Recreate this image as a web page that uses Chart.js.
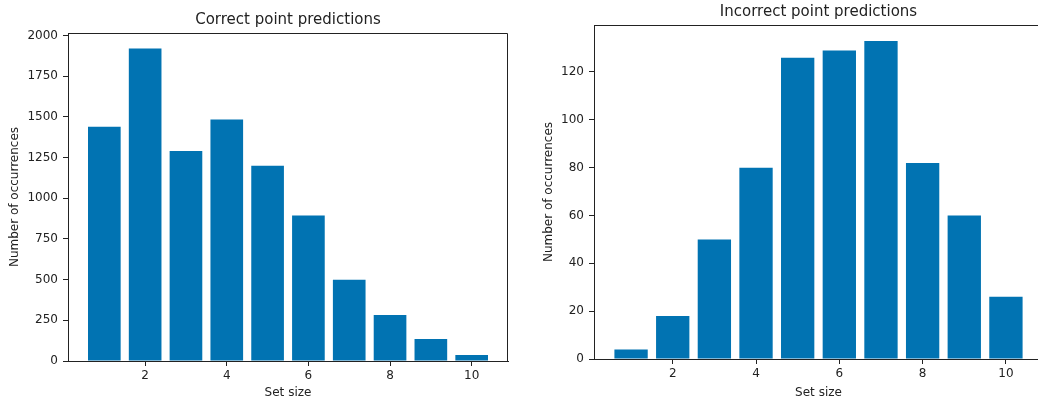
<!DOCTYPE html>
<html>
<head>
<meta charset="utf-8">
<script src="https://cdn.jsdelivr.net/npm/chart.js@4"></script>
<style>
  html, body { margin: 0; padding: 0; background: #fff; overflow: hidden; }
  body { width: 1038px; height: 400px; position: relative; }
  .box { position: absolute; top: 0; height: 400px; }
</style>
</head>
<body>
<div class="box" style="left:0px;width:576px"><canvas id="leftChart"></canvas></div>
<div class="box" style="left:540px;width:557px"><canvas id="rightChart"></canvas></div>
<script>
// datos
const setSizes = [1, 2, 3, 4, 5, 6, 7, 8, 9, 10];
const correctCounts = [1440, 1920, 1290, 1485, 1200, 895, 500, 282, 135, 37];
const incorrectCounts = [4, 18, 50, 80, 126, 129, 133, 82, 60, 26];
const xTickValues = [2, 4, 6, 8, 10];
const correctYTicks = [0, 250, 500, 750, 1000, 1250, 1500, 1750, 2000];
const incorrectYTicks = [0, 20, 40, 60, 80, 100, 120];

const barColor = '#0173B2';
const ink = '#222';
Chart.defaults.font.family = "'DejaVu Sans', sans-serif";
Chart.defaults.color = ink;

// spines de arriba y derecha
const boxPlugin = {
  id: 'boxFrame',
  afterDraw(chart) {
    const a = chart.chartArea, ctx = chart.ctx;
    const l = Math.round(a.left) + 0.5, r = Math.round(a.right) - 0.5;
    const t = Math.round(a.top) + 0.5, b = Math.round(a.bottom);
    ctx.save();
    ctx.strokeStyle = ink;
    ctx.lineWidth = 1;
    ctx.beginPath();
    ctx.moveTo(l, t); ctx.lineTo(r, t); ctx.lineTo(r, b);
    ctx.stroke();
    ctx.restore();
  }
};

function HacerGrafica(id, titulo, valores, yTicks, yMax, cfg) {
  const ctx = document.getElementById(id);
  return new Chart(ctx, {
    type: 'bar',
    data: {
      datasets: [{
        data: setSizes.map((x, i) => ({ x, y: valores[i] })),
        backgroundColor: barColor,
        borderWidth: 0,
        categoryPercentage: 1,
        barPercentage: 0.8
      }]
    },
    options: {
      responsive: true,
      maintainAspectRatio: false,
      animation: false,
      layout: { padding: 0 },
      plugins: {
        legend: { display: false },
        tooltip: { enabled: false },
        title: {
          display: true,
          text: titulo,
          color: ink,
          font: { size: 15, weight: 'normal' },
          padding: { top: cfg.titleTop, bottom: cfg.titleBottom }
        }
      },
      scales: {
        x: {
          type: 'linear',
          min: 0.11,
          max: 10.89,
          offset: false,
          afterBuildTicks: s => { s.ticks = xTickValues.map(v => ({ value: v })); },
          afterFit: s => { s.height = cfg.xHeight; },
          grid: { drawOnChartArea: false, drawTicks: true, tickLength: 5, color: ink, offset: false },
          border: { display: true, color: ink, width: 1 },
          ticks: { font: { size: 12 }, color: ink, padding: 3, maxRotation: 0, callback: v => String(v) },
          title: { display: true, text: 'Set size', color: ink, font: { size: 12 }, padding: { top: 0, bottom: 0 } }
        },
        y: {
          min: 0,
          max: yMax,
          afterBuildTicks: s => { s.ticks = yTicks.map(v => ({ value: v })); },
          afterFit: s => { s.width = cfg.yWidth; },
          grid: { drawOnChartArea: false, drawTicks: true, tickLength: 5, color: ink },
          border: { display: true, color: ink, width: 1 },
          ticks: { font: { size: 12 }, color: ink, padding: 5, callback: v => String(v) },
          title: { display: true, text: 'Number of occurrences', color: ink, font: { size: 12 }, padding: { top: cfg.yTitlePad, bottom: 0 } }
        },
        // eje vacio a la derecha, solo reserva espacio para centrar el titulo sobre el area
        yHueco: {
          position: 'right',
          display: true,
          afterFit: s => { s.width = cfg.padRight; },
          grid: { display: false },
          border: { display: false },
          ticks: { display: false },
          title: { display: false }
        }
      }
    },
    plugins: [boxPlugin]
  });
}

HacerGrafica('leftChart', 'Correct point predictions', correctCounts, correctYTicks, 2016,
  { padRight: 68, titleTop: 11, titleBottom: 4, xHeight: 39, yWidth: 68, yTitlePad: 7.8 });
HacerGrafica('rightChart', 'Incorrect point predictions', incorrectCounts, incorrectYTicks, 139.65,
  { padRight: 54, titleTop: 3, titleBottom: 4, xHeight: 41, yWidth: 54, yTitlePad: 1.8 });
</script>
</body>
</html>
